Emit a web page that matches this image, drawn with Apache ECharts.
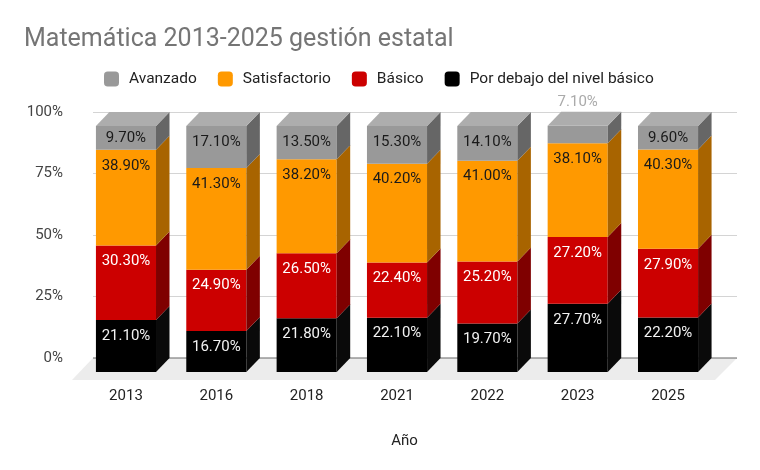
<!DOCTYPE html>
<html>
<head>
<meta charset="utf-8">
<script src="https://cdn.jsdelivr.net/npm/echarts@6/dist/echarts.min.js"></script>
<style>html,body{margin:0;padding:0;background:#fff;}#c{width:760px;height:470px;}</style>
</head>
<body>
<div id="c"></div>
<script>
const categories = ['2013', '2016', '2018', '2021', '2022', '2023', '2025'];
const porDebajo = [21.1, 16.7, 21.8, 22.1, 19.7, 27.7, 22.2];
const basico = [30.3, 24.9, 26.5, 22.4, 25.2, 27.2, 27.9];
const satisfactorio = [38.9, 41.3, 38.2, 40.2, 41.0, 38.1, 40.3];
const avanzado = [9.7, 17.1, 13.5, 15.3, 14.1, 7.1, 9.6];
const yTicks = [0, 25, 50, 75, 100];

const FONT = 'Roboto';
const DX = 13.5, DY = 14;

const layers = [
  { name: 'Por debajo del nivel básico', data: porDebajo, front: '#000000', side: '#0a0a0a', top: '#333333', text: '#f2f2f2' },
  { name: 'Básico', data: basico, front: '#cc0000', side: '#7f0000', top: '#e04040', text: '#ffffff' },
  { name: 'Satisfactorio', data: satisfactorio, front: '#ff9900', side: '#a86400', top: '#ffb84d', text: '#1a1a1a' },
  { name: 'Avanzado', data: avanzado, front: '#999999', side: '#666666', top: '#adadad', text: '#1a1a1a' }
];

function fmt(v) { return v.toFixed(2) + '%'; }

function makeRender(L, isTop) {
  return function (params, api) {
    const i = api.value(0), base = api.value(1), val = api.value(2);
    const p0 = api.coord([i, base]);
    const p1 = api.coord([i, base + val]);
    const bw = api.size([1, 0])[0] * 0.665;
    const fx0 = p0[0] - DX - bw / 2, fx1 = fx0 + bw;
    const fyB = p0[1] + DY, fyT = p1[1] + DY;
    const h = fyB - fyT;
    const children = [
      { type: 'rect', shape: { x: fx0, y: fyT, width: bw, height: h }, style: { fill: L.front } },
      { type: 'polygon', shape: { points: [[fx1, fyT], [fx1 + DX, fyT - DY], [fx1 + DX, fyB - DY], [fx1, fyB]] }, style: { fill: L.side } }
    ];
    if (isTop) {
      children.push({ type: 'polygon', shape: { points: [[fx0, fyT], [fx1, fyT], [fx1 + DX, fyT - DY], [fx0 + DX, fyT - DY]] }, style: { fill: L.top } });
    }
    let ty, col = L.text;
    if (h < 20) { ty = fyT - 24; col = '#aaaaaa'; }
    else if (h < 32) { ty = fyT + h / 2; }
    else { ty = fyT + 16; }
    children.push({
      type: 'text', z2: 10,
      style: { text: fmt(val), x: fx0 + bw / 2, y: ty, fill: col, font: '15px ' + FONT, textAlign: 'center', textVerticalAlign: 'middle' }
    });
    return { type: 'group', children: children };
  };
}

const series = [];
// floor
series.push({
  type: 'custom', xAxisIndex: 0, yAxisIndex: 0, silent: true, z: 1,
  data: [[0, 0]],
  renderItem: function (params, api) {
    const cs = params.coordSys;
    const yb = cs.y + cs.height;
    return {
      type: 'group', children: [
        { type: 'polygon', shape: { points: [[cs.x, yb], [cs.x + cs.width, yb], [cs.x + cs.width - 22, yb + 22], [cs.x - 21, yb + 22]] }, style: { fill: '#ececec' } },
        { type: 'line', shape: { x1: cs.x, y1: yb, x2: cs.x + cs.width, y2: yb }, style: { stroke: '#666666', lineWidth: 1 } }
      ]
    };
  }
});
const cum = categories.map(() => 0);
layers.forEach((L, k) => {
  const d = categories.map((c, i) => { const r = [i, cum[i], L.data[i]]; cum[i] += L.data[i]; return r; });
  series.push({
    name: L.name, type: 'custom', xAxisIndex: 1, yAxisIndex: 1, z: 3,
    itemStyle: { color: L.front },
    encode: { x: 0, y: 1 },
    data: d,
    renderItem: makeRender(L, k === layers.length - 1)
  });
});

const chart = echarts.init(document.getElementById('c'), null, { renderer: 'canvas' });
chart.setOption({
  animation: false,
  backgroundColor: '#ffffff',
  title: {
    text: 'Matemática 2013-2025 gestión estatal',
    left: 24, top: 27, padding: 0,
    textStyle: { fontFamily: FONT, fontSize: 25, fontWeight: 'normal', color: '#757575' }
  },
  legend: {
    data: ['Avanzado', 'Satisfactorio', 'Básico', 'Por debajo del nivel básico'],
    left: 104, top: 71, padding: 0,
    itemWidth: 15, itemHeight: 15, itemGap: 21, icon: 'roundRect',
    textStyle: { fontFamily: FONT, fontSize: 15.5, color: '#222222', padding: [0, 0, 0, 5] }
  },
  grid: [
    { left: 93, right: 23, top: 112, bottom: 112 },
    { left: 94.3, right: 33.3, top: 112, bottom: 112 }
  ],
  xAxis: [
    { type: 'category', gridIndex: 0, data: categories, show: false },
    {
      type: 'category', gridIndex: 1, data: categories,
      axisLine: { show: false }, axisTick: { show: false },
      axisLabel: { margin: 31, fontFamily: FONT, fontSize: 15, color: '#222222', padding: [0, 27, 0, 0] },
      name: 'Año', nameLocation: 'middle', nameGap: 76,
      nameTextStyle: { fontFamily: FONT, fontSize: 15, color: '#222222', padding: [0, 12, 0, 0] }
    }
  ],
  yAxis: [
    {
      type: 'value', gridIndex: 0, min: yTicks[0], max: yTicks[yTicks.length - 1], interval: 25,
      axisLine: { show: false }, axisTick: { show: false },
      axisLabel: { margin: 30, formatter: '{value}%', fontFamily: FONT, fontSize: 15, color: '#444444' },
      splitLine: { lineStyle: { color: '#d4d4d4', width: 1 } }
    },
    { type: 'value', gridIndex: 1, min: 0, max: 100, show: false, splitLine: { show: false } }
  ],
  series: series
});
</script>
</body>
</html>
